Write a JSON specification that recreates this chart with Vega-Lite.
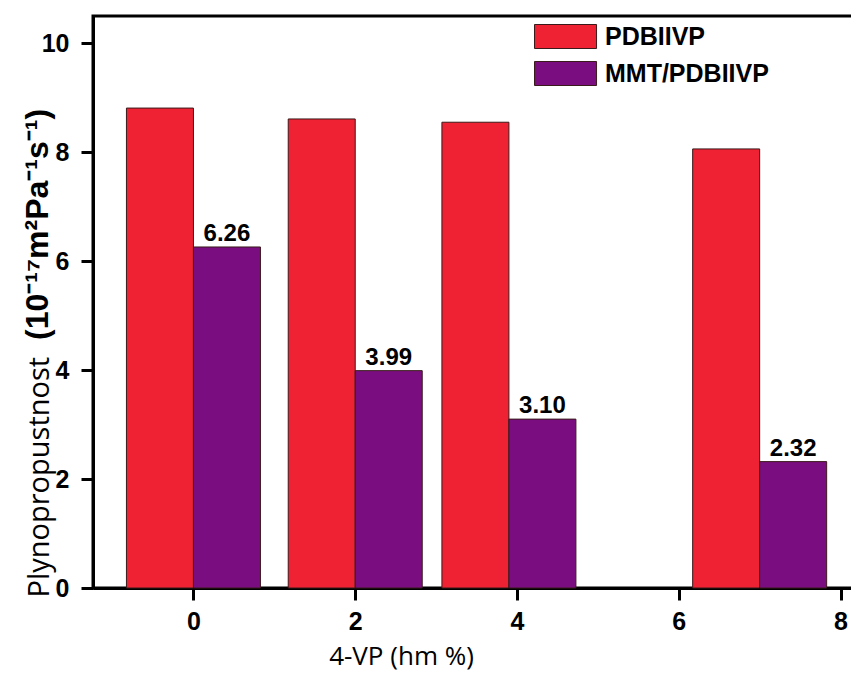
{
  "$schema": "https://vega.github.io/schema/vega-lite/v6.json",
  "autosize": "none",
  "width": 793,
  "height": 572,
  "padding": {"left": 93, "top": 16, "right": 0, "bottom": 85},
  "background": "white",
  "config": {
    "view": {"stroke": "black", "strokeWidth": 3},
    "font": "Liberation Sans"
  },
  "title": {
    "text": "(10⁻¹⁷m²Pa⁻¹s⁻¹)",
    "orient": "left",
    "anchor": "start",
    "frame": "group",
    "font": "Liberation Sans",
    "fontSize": 32,
    "fontWeight": "bold",
    "color": "black",
    "baseline": "alphabetic",
    "offset": -55,
    "dx": 248
  },
  "data": {
    "values": [
      {"x": 0, "series": "PDBIIVP", "value": 8.81},
      {"x": 2, "series": "PDBIIVP", "value": 8.61},
      {"x": 3.9, "series": "PDBIIVP", "value": 8.55},
      {"x": 7, "series": "PDBIIVP", "value": 8.06},
      {"x": 0, "series": "MMT/PDBIIVP", "value": 6.26},
      {"x": 2, "series": "MMT/PDBIIVP", "value": 3.99},
      {"x": 3.9, "series": "MMT/PDBIIVP", "value": 3.10},
      {"x": 7, "series": "MMT/PDBIIVP", "value": 2.32}
    ]
  },
  "encoding": {
    "x": {
      "field": "x",
      "type": "quantitative",
      "scale": {"domain": [-1.18, 8.5], "nice": false, "zero": false},
      "axis": {
        "values": [0, 2, 4, 6, 8],
        "title": "4-VP (hm %)",
        "titleFont": "Open Sans",
        "titleFontSize": 26,
        "titleFontWeight": "normal",
        "titleColor": "black",
        "titleX": 308,
        "titleY": 76,
        "titleBaseline": "alphabetic",
        "labelFont": "Liberation Sans",
        "labelFontSize": 25,
        "labelFontWeight": "bold",
        "labelColor": "black",
        "labelPadding": 9,
        "tickSize": 12,
        "tickWidth": 3,
        "tickColor": "black",
        "domainColor": "black",
        "domainWidth": 3,
        "grid": false
      }
    },
    "y": {
      "field": "value",
      "type": "quantitative",
      "scale": {"domain": [0, 10.5], "nice": false},
      "axis": {
        "values": [0, 2, 4, 6, 8, 10],
        "title": "Plynopropustnost",
        "titleFont": "Open Sans",
        "titleFontSize": 29,
        "titleFontWeight": "normal",
        "titleColor": "black",
        "titleAngle": 270,
        "titleAlign": "left",
        "titleBaseline": "alphabetic",
        "titleX": -45,
        "titleY": 581,
        "labelFont": "Liberation Sans",
        "labelFontSize": 25,
        "labelFontWeight": "bold",
        "labelColor": "black",
        "labelPadding": 12,
        "tickSize": 12,
        "tickWidth": 3,
        "tickColor": "black",
        "domainColor": "black",
        "domainWidth": 3,
        "grid": false
      }
    }
  },
  "layer": [
    {
      "transform": [{"filter": "datum.series === 'PDBIIVP'"}],
      "mark": {"type": "bar", "width": 67, "xOffset": -33.5, "stroke": "#3a1a1a", "strokeWidth": 1, "opacity": 1},
      "encoding": {
        "color": {
          "field": "series",
          "type": "nominal",
          "scale": {"domain": ["PDBIIVP", "MMT/PDBIIVP"], "range": ["#EE2233", "#7A0E80"]},
          "legend": {
            "orient": "none",
            "legendX": 441,
            "legendY": 8,
            "title": null,
            "symbolType": "M-1,-1H4.17V1H-1Z",
            "symbolSize": 576,
            "symbolStrokeColor": "#3a1a1a",
            "symbolStrokeWidth": 1,
            "symbolOpacity": 1,
            "labelFont": "Liberation Sans",
            "labelFontSize": 25,
            "labelFontWeight": "bold",
            "labelColor": "black",
            "labelOffset": 46,
            "labelLimit": 400,
            "rowPadding": 8,
            "padding": 0
          }
        }
      }
    },
    {
      "transform": [{"filter": "datum.series === 'MMT/PDBIIVP'"}],
      "mark": {"type": "bar", "width": 67, "xOffset": 33.5, "stroke": "#3a1a1a", "strokeWidth": 1, "opacity": 1},
      "encoding": {
        "color": {"field": "series", "type": "nominal"}
      }
    },
    {
      "transform": [{"filter": "datum.series === 'MMT/PDBIIVP'"}],
      "mark": {"type": "text", "xOffset": 33.5, "dy": -6, "baseline": "alphabetic", "align": "center", "font": "Liberation Sans", "fontSize": 24, "fontWeight": "bold", "color": "black"},
      "encoding": {
        "text": {"field": "value", "type": "quantitative", "format": ".2f"}
      }
    }
  ]
}
